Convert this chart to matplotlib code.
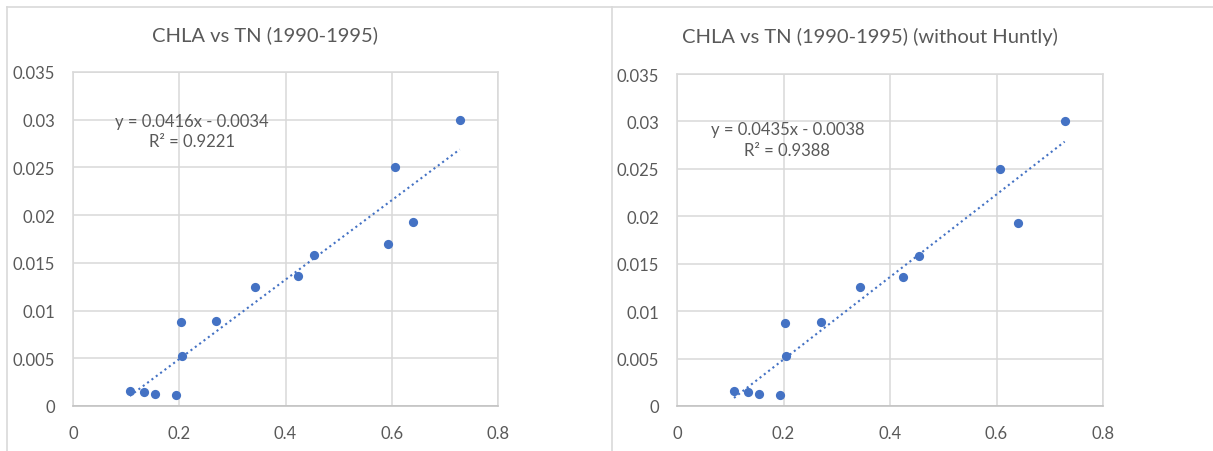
import matplotlib
matplotlib.use("Agg")
import matplotlib.pyplot as plt
from matplotlib.lines import Line2D

# TN (x) and CHLA (y)
tn_all = [0.107, 0.134, 0.154, 0.193, 0.203, 0.205, 0.270, 0.343, 0.424, 0.454,
          0.592, 0.607, 0.640, 0.728]
chla_all = [0.00157, 0.00150, 0.00126, 0.00115, 0.00877, 0.00527, 0.00887, 0.0125,
            0.01359, 0.01586, 0.01701, 0.0250, 0.01925, 0.0300]

# same data without Huntly (drops the 0.592 point)
tn_nh = [0.107, 0.134, 0.154, 0.193, 0.203, 0.205, 0.270, 0.343, 0.424, 0.454,
         0.607, 0.640, 0.728]
chla_nh = [0.00157, 0.00150, 0.00126, 0.00115, 0.00877, 0.00527, 0.00887, 0.0125,
           0.01359, 0.01586, 0.0250, 0.01925, 0.0300]

titles = ["CHLA vs TN (1990-1995)", "CHLA vs TN (1990-1995) (without Huntly)"]
slopes = [0.0416, 0.0435]
intercepts = [-0.0034, -0.0038]
eq_labels = ["y = 0.0416x - 0.0034\nR\u00b2 = 0.9221",
             "y = 0.0435x - 0.0038\nR\u00b2 = 0.9388"]
x_ticks = [0, 0.2, 0.4, 0.6, 0.8]
x_ticklabels = ["0", "0.2", "0.4", "0.6", "0.8"]
y_ticks = [0, 0.005, 0.01, 0.015, 0.02, 0.025, 0.03, 0.035]
y_ticklabels = ["0", "0.005", "0.01", "0.015", "0.02", "0.025", "0.03", "0.035"]

plt.rcParams["font.family"] = ["Lato", "DejaVu Sans"]
text_col = "#595959"
grid_col = "#d9d9d9"
blue = "#4472c4"

W, H = 1213, 452
fig = plt.figure(figsize=(W / 100, H / 100), dpi=100)

axes_px = [(73, 498, 73, 407), (677, 1103, 75, 407)]  # left, right, top, bottom
title_pos = [(265, 35), (870, 37)]
eq_pos = [(0.224, 0.0288), (0.2075, 0.0281)]
datasets = [(tn_all, chla_all), (tn_nh, chla_nh)]

for i in range(2):
    l, r, t, b = axes_px[i]
    ax = fig.add_axes([l / W, 1 - b / H, (r - l) / W, (b - t) / H])
    x, y = datasets[i]
    ax.scatter(x, y, s=44, color=blue, zorder=3, linewidths=0)
    x0, x1 = min(x), max(x)
    ax.plot([x0, x1], [slopes[i] * x0 + intercepts[i], slopes[i] * x1 + intercepts[i]],
            color=blue, linestyle=(0, (1, 1.6)), linewidth=1.5, zorder=2)
    ax.set_xlim(0, 0.8)
    ax.set_ylim(0, 0.035)
    ax.set_xticks(x_ticks, x_ticklabels)
    ax.set_yticks(y_ticks, y_ticklabels)
    ax.grid(True, color=grid_col, linewidth=1.1, zorder=0)
    ax.set_axisbelow(True)
    for s in ax.spines.values():
        s.set_color(grid_col)
        s.set_linewidth(1.1)
    ax.spines["bottom"].set_color("#bfbfbf")
    ax.tick_params(length=0, labelsize=12, colors=text_col)
    ax.tick_params(axis="y", pad=13)
    ax.tick_params(axis="x", pad=14)
    ax.text(eq_pos[i][0], eq_pos[i][1], eq_labels[i], ha="center", va="center",
            fontsize=12, color=text_col, linespacing=1.35)
    fig.text(title_pos[i][0] / W, 1 - title_pos[i][1] / H, titles[i], ha="center",
             va="center", fontsize=14.5, color=text_col)

# chart area borders
for xs, ys in [((7, W), (8, 8)), ((7, 7), (8, H)), ((612, 612), (8, H))]:
    fig.add_artist(Line2D([v / W for v in xs], [1 - v / H for v in ys],
                          color=grid_col, linewidth=1.2))

fig.savefig("out.png", dpi=100, facecolor="white")
